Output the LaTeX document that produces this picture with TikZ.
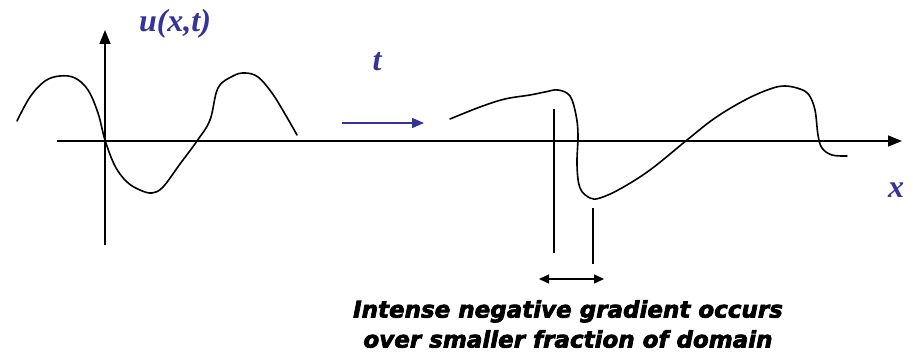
\documentclass[tikz,border=0pt]{standalone}
\usepackage{fontspec}
\setmainfont{Liberation Serif}
\newfontfamily\dvfont[BoldItalicFeatures={FakeBold=3}]{DejaVu Sans}
\usetikzlibrary{arrows.meta}
\definecolor{lblue}{RGB}{51,51,153}
\tikzset{
  curve/.style={line width=1.6pt, line join=round, line cap=round},
  axis/.style={line width=1.5pt},
  bigtip/.style={-{Triangle[length=14pt,width=11pt]}},
  lbl/.style={text=lblue, font=\fontsize{32}{34}\selectfont\bfseries\itshape, inner sep=0pt},
  note/.style={font=\dvfont\fontsize{23}{30}\selectfont\bfseries\itshape, align=center, inner sep=0pt},
}
\begin{document}
\begin{tikzpicture}[x=1pt,y=-1pt]
\useasboundingbox (0,0) rectangle (913,352);
% axes
\coordinate (hx0) at (57,141);
\coordinate (hx1) at (902,141);
\coordinate (vy0) at (105,245);
\coordinate (vy1) at (105,30);
\draw[axis,bigtip] (hx0) -- (hx1);
\draw[axis,bigtip] (vy0) -- (vy1);
% labels
\node[lbl] (u) at (175,24) {u(x,t)};
\node[lbl] (t) at (377,62) {t};
\node[lbl] (x) at (896,190) {x};
% time arrow
\coordinate (ta0) at (342,123);
\coordinate (ta1) at (424,123);
\draw[line width=1.3pt, lblue, -{Triangle[length=12pt,width=10pt]}] (ta0) -- (ta1);
% left curve
\draw[curve] plot[smooth, tension=0.6] coordinates {
 (17,121) (30,97) (45,81) (60,76) (75,78) (88,90) (98,113) (105,140) (115,166)
 (127,182) (140,190) (152,193) (163,187) (180,164) (197,141) (210,120) (218,88)
 (233,76) (245,73) (258,77) (272,93) (285,114) (297,135)};
% right curve
\draw[curve] plot[smooth, tension=0.6] coordinates {
 (450,119) (480,107) (505,99) (530,95) (545,92) (558,90) (570,96) (576,115)
 (578,135) (577,165) (580,188) (590,198) (600,198) (620,189) (650,170) (687,140)
 (715,118) (745,100) (770,89) (785,86) (800,89) (809,95) (815,110) (818,135)
 (822,148) (832,155) (847,156)};
% markers
\coordinate (m1a) at (554,109);
\coordinate (m1b) at (554,253);
\coordinate (m2a) at (593,208);
\coordinate (m2b) at (593,264);
\draw[axis] (m1a) -- (m1b);
\draw[axis] (m2a) -- (m2b);
\coordinate (d0) at (539,279);
\coordinate (d1) at (604,279);
\draw[line width=1.5pt, {Triangle[length=10pt,width=9pt]}-{Triangle[length=10pt,width=9pt]}] (d0) -- (d1);
% note
\node[note] (n) at (568,324) {Intense negative gradient occurs\\over smaller fraction of domain};
\end{tikzpicture}
\end{document}
